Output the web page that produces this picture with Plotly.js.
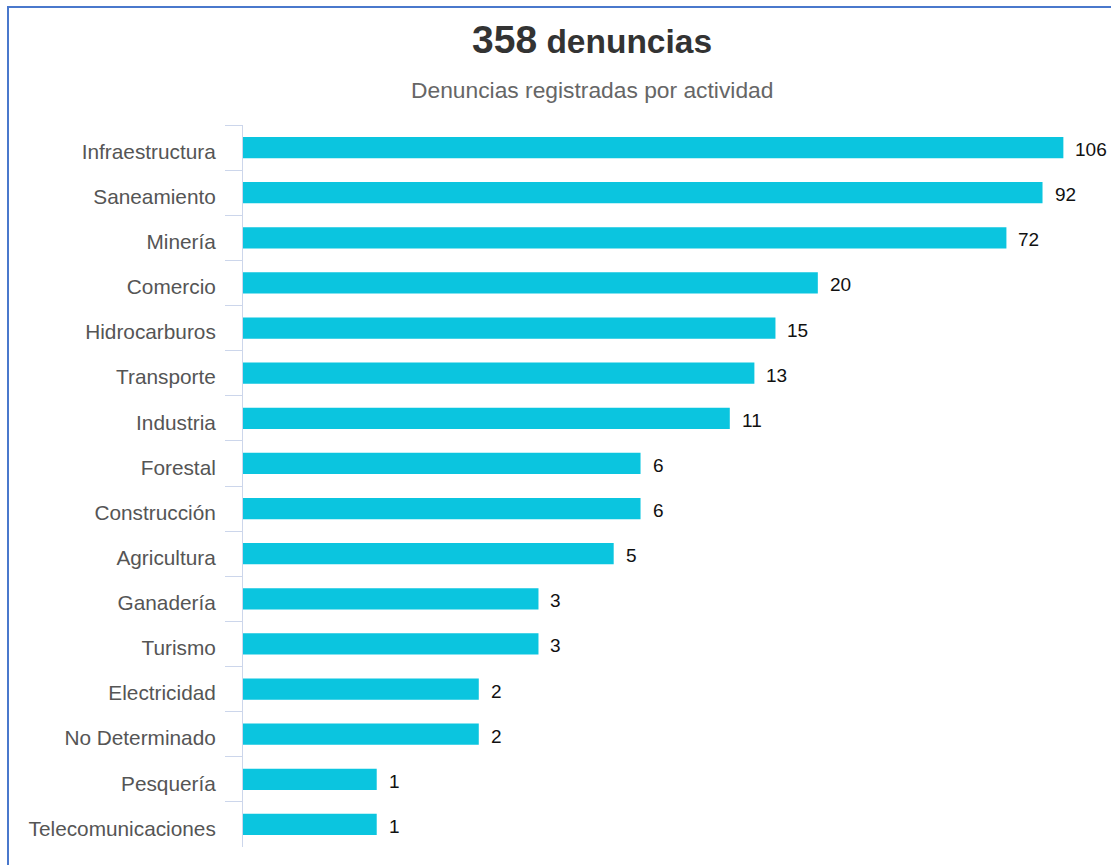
<!DOCTYPE html>
<html>
<head>
<meta charset="utf-8">
<script src="https://cdn.plot.ly/plotly-3.0.1.min.js"></script>
<style>
  html, body { margin: 0; padding: 0; background: #fff; }
  #wrap { position: relative; width: 1111px; height: 865px; overflow: hidden; }
  #chart { position: absolute; left: 0; top: 0; width: 1111px; height: 865px; }
  #border { position: absolute; left: 7px; top: 6px; width: 1120px; height: 880px;
            border-left: 2px solid #4a78cc; border-top: 2px solid #4a78cc; pointer-events: none; }
</style>
</head>
<body>
<div id="wrap">
  <div id="chart"></div>
  <div id="border"></div>
</div>
<script>
const categories = [
  "Infraestructura", "Saneamiento", "Minería", "Comercio", "Hidrocarburos",
  "Transporte", "Industria", "Forestal", "Construcción", "Agricultura",
  "Ganadería", "Turismo", "Electricidad", "No Determinado", "Pesquería",
  "Telecomunicaciones"
];
const values = [106, 92, 72, 20, 15, 13, 11, 6, 6, 5, 3, 3, 2, 2, 1, 1];
const titleNumber = "358";
const titleWord = "denuncias";
const subtitle = "Denuncias registradas por actividad";

const FONT = "Liberation Sans, Arial, sans-serif";

const trace = {
  type: "bar",
  orientation: "h",
  x: values,
  y: categories,
  width: 0.47,
  marker: { color: "#0bc5df", line: { width: 0 } },
  hoverinfo: "x+y"
};

const labelAnnotations = values.map((v, i) => ({
  x: Math.log10(v),
  y: categories[i],
  xref: "x",
  yref: "y",
  text: String(v),
  showarrow: false,
  xanchor: "left",
  yanchor: "middle",
  xshift: 10,
  yshift: -2,
  font: { family: FONT, size: 19, color: "#111" }
}));

const layout = {
  width: 1111,
  height: 865,
  margin: { l: 243, r: 44, t: 125, b: 18 },
  paper_bgcolor: "#fff",
  plot_bgcolor: "#fff",
  showlegend: false,
  font: { family: FONT },
  xaxis: {
    type: "log",
    range: [-0.3944, 2.036],
    showgrid: false,
    zeroline: false,
    showline: false,
    showticklabels: false,
    ticks: "",
    fixedrange: true
  },
  yaxis: {
    type: "category",
    autorange: "reversed",
    showline: true,
    linecolor: "#ccd6eb",
    linewidth: 1,
    ticks: "outside",
    tickson: "boundaries",
    ticklen: 17,
    tickwidth: 1,
    tickcolor: "#ccd6eb",
    ticklabelstandoff: 22,
    ticklabelshift: -4,
    showgrid: false,
    zeroline: false,
    tickfont: { family: FONT, size: 20.8, color: "#555" },
    fixedrange: true
  },
  annotations: [
    {
      xref: "paper", yref: "paper",
      x: 0.4236, y: (865 - 18 - 40) / (865 - 125 - 18),
      xanchor: "center", yanchor: "middle",
      showarrow: false,
      text: "<b><span style='font-size:39px'>" + titleNumber + "</span> " + titleWord + "</b>",
      font: { family: FONT, size: 33.5, color: "#333" }
    },
    {
      xref: "paper", yref: "paper",
      x: 0.4236, y: (865 - 18 - 90) / (865 - 125 - 18),
      xanchor: "center", yanchor: "middle",
      showarrow: false,
      text: subtitle,
      font: { family: FONT, size: 22.8, color: "#666" }
    }
  ].concat(labelAnnotations)
};

Plotly.newPlot("chart", [trace], layout, { displayModeBar: false, staticPlot: true });
</script>
</body>
</html>
